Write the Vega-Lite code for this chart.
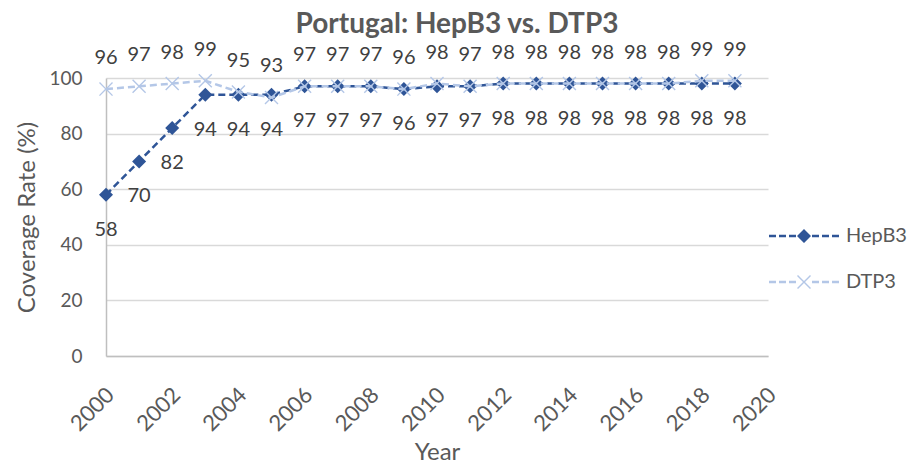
{
  "$schema": "https://vega.github.io/schema/vega-lite/v6.json",
  "width": 662,
  "height": 278,
  "autosize": {"type": "none"},
  "padding": {"left": 106, "top": 78, "right": 146, "bottom": 113},
  "background": "white",
  "config": {
    "view": {"stroke": null},
    "font": "Lato",
    "text": {"font": "Lato"}
  },
  "title": {
    "text": "Portugal: HepB3 vs. DTP3",
    "font": "Lato",
    "fontSize": 28,
    "fontWeight": "bold",
    "color": "#595959",
    "anchor": "middle",
    "baseline": "alphabetic",
    "offset": -21,
    "dx": 20
  },
  "data": {
    "values": [
      {"Year": 2000, "Series": "HepB3", "Rate": 58},
      {"Year": 2001, "Series": "HepB3", "Rate": 70},
      {"Year": 2002, "Series": "HepB3", "Rate": 82},
      {"Year": 2003, "Series": "HepB3", "Rate": 94},
      {"Year": 2004, "Series": "HepB3", "Rate": 94},
      {"Year": 2005, "Series": "HepB3", "Rate": 94},
      {"Year": 2006, "Series": "HepB3", "Rate": 97},
      {"Year": 2007, "Series": "HepB3", "Rate": 97},
      {"Year": 2008, "Series": "HepB3", "Rate": 97},
      {"Year": 2009, "Series": "HepB3", "Rate": 96},
      {"Year": 2010, "Series": "HepB3", "Rate": 97},
      {"Year": 2011, "Series": "HepB3", "Rate": 97},
      {"Year": 2012, "Series": "HepB3", "Rate": 98},
      {"Year": 2013, "Series": "HepB3", "Rate": 98},
      {"Year": 2014, "Series": "HepB3", "Rate": 98},
      {"Year": 2015, "Series": "HepB3", "Rate": 98},
      {"Year": 2016, "Series": "HepB3", "Rate": 98},
      {"Year": 2017, "Series": "HepB3", "Rate": 98},
      {"Year": 2018, "Series": "HepB3", "Rate": 98},
      {"Year": 2019, "Series": "HepB3", "Rate": 98},
      {"Year": 2000, "Series": "DTP3", "Rate": 96},
      {"Year": 2001, "Series": "DTP3", "Rate": 97},
      {"Year": 2002, "Series": "DTP3", "Rate": 98},
      {"Year": 2003, "Series": "DTP3", "Rate": 99},
      {"Year": 2004, "Series": "DTP3", "Rate": 95},
      {"Year": 2005, "Series": "DTP3", "Rate": 93},
      {"Year": 2006, "Series": "DTP3", "Rate": 97},
      {"Year": 2007, "Series": "DTP3", "Rate": 97},
      {"Year": 2008, "Series": "DTP3", "Rate": 97},
      {"Year": 2009, "Series": "DTP3", "Rate": 96},
      {"Year": 2010, "Series": "DTP3", "Rate": 98},
      {"Year": 2011, "Series": "DTP3", "Rate": 97},
      {"Year": 2012, "Series": "DTP3", "Rate": 98},
      {"Year": 2013, "Series": "DTP3", "Rate": 98},
      {"Year": 2014, "Series": "DTP3", "Rate": 98},
      {"Year": 2015, "Series": "DTP3", "Rate": 98},
      {"Year": 2016, "Series": "DTP3", "Rate": 98},
      {"Year": 2017, "Series": "DTP3", "Rate": 98},
      {"Year": 2018, "Series": "DTP3", "Rate": 99},
      {"Year": 2019, "Series": "DTP3", "Rate": 99}
    ]
  },
  "encoding": {
    "x": {
      "field": "Year",
      "type": "quantitative",
      "scale": {"domain": [2000, 2020], "nice": false, "zero": false},
      "axis": {
        "title": "Year",
        "titleFont": "Lato",
        "titleFontSize": 24,
        "titleFontWeight": "normal",
        "titleColor": "#595959",
        "titleY": 96,
        "titleBaseline": "middle",
        "values": [2000, 2002, 2004, 2006, 2008, 2010, 2012, 2014, 2016, 2018, 2020],
        "format": "d",
        "labelAngle": -45,
        "labelFont": "Lato",
        "labelFontSize": 22,
        "labelColor": "#595959",
        "labelPadding": 28,
        "labelOffset": -3,
        "labelOverlap": false,
        "labelFlush": false,
        "ticks": false,
        "grid": false,
        "domainColor": "#BFBFBF",
        "domainWidth": 1.5
      }
    },
    "y": {
      "field": "Rate",
      "type": "quantitative",
      "scale": {"domain": [0, 100], "nice": false},
      "axis": {
        "title": "Coverage Rate (%)",
        "titleFont": "Lato",
        "titleFontSize": 24,
        "titleFontWeight": "normal",
        "titleColor": "#595959",
        "titleX": -79,
        "titleY": 139,
        "titleAngle": -90,
        "titleAlign": "center",
        "titleBaseline": "middle",
        "values": [0, 20, 40, 60, 80, 100],
        "labelFont": "Lato",
        "labelFontSize": 19,
        "labelColor": "#595959",
        "labelPadding": 24,
        "ticks": false,
        "grid": true,
        "gridColor": "#D9D9D9",
        "gridWidth": 1.5,
        "domainColor": "#BFBFBF",
        "domainWidth": 1.5
      }
    },
    "color": {
      "field": "Series",
      "type": "nominal",
      "scale": {"domain": ["HepB3", "DTP3"], "range": ["#2F5597", "#B4C7E7"]},
      "legend": {
        "title": null,
        "orient": "none",
        "legendX": 688,
        "legendY": 148,
        "symbolSize": 400,
        "labelOffset": 32,
        "rowPadding": 26,
        "labelFont": "Lato",
        "labelFontSize": 20,
        "labelColor": "#595959",
        "encode": {
          "symbols": {
            "update": {
              "shape": {"signal": "datum.value === 'HepB3' ? 'M-3.5,-0.12H-2.8V0.12H-3.5ZM-2.5,-0.12H-1.8V0.12H-2.5ZM-1.5,-0.12H-0.8V0.12H-1.5ZM0.8,-0.12H1.5V0.12H0.8ZM1.8,-0.12H2.5V0.12H1.8ZM2.8,-0.12H3.5V0.12H2.8ZM0,-0.7L0.7,0L0,0.7L-0.7,0Z' : 'M-3.5,-0.12H-2.8V0.12H-3.5ZM-2.5,-0.12H-1.8V0.12H-2.5ZM-1.5,-0.12H-0.8V0.12H-1.5ZM0.8,-0.12H1.5V0.12H0.8ZM1.8,-0.12H2.5V0.12H1.8ZM2.8,-0.12H3.5V0.12H2.8ZM-0.7,-0.6L-0.6,-0.7L0,-0.1L0.6,-0.7L0.7,-0.6L0.1,0L0.7,0.6L0.6,0.7L0,0.1L-0.6,0.7L-0.7,0.6L-0.1,0Z'"},
              "fill": {"signal": "datum.value === 'HepB3' ? '#2F5597' : '#B4C7E7'"},
              "opacity": {"value": 1},
              "strokeWidth": {"value": 0}
            }
          }
        }
      }
    }
  },
  "layer": [
    {
      "transform": [{"filter": "datum.Series === 'HepB3'"}],
      "mark": {"type": "line", "strokeDash": [7, 4], "strokeWidth": 2.5}
    },
    {
      "transform": [{"filter": "datum.Series === 'HepB3'"}],
      "mark": {"type": "point", "filled": true, "opacity": 1, "size": 196, "strokeWidth": 0, "shape": "M0,-1L1,0L0,1L-1,0Z"}
    },
    {
      "transform": [{"filter": "datum.Series === 'HepB3'"}],
      "mark": {"type": "text", "dy": 35, "font": "Lato", "fontSize": 20, "baseline": "middle"},
      "encoding": {"text": {"field": "Rate", "type": "quantitative"}, "color": {"value": "#404040"}}
    },
    {
      "transform": [{"filter": "datum.Series === 'DTP3'"}],
      "mark": {"type": "line", "strokeDash": [7, 4], "strokeWidth": 2.5}
    },
    {
      "transform": [{"filter": "datum.Series === 'DTP3'"}],
      "mark": {"type": "point", "filled": true, "opacity": 1, "size": 196, "strokeWidth": 0, "shape": "M-1,-0.86L-0.86,-1L0,-0.14L0.86,-1L1,-0.86L0.14,0L1,0.86L0.86,1L0,0.14L-0.86,1L-1,0.86L-0.14,0Z"}
    },
    {
      "transform": [{"filter": "datum.Series === 'DTP3'"}],
      "mark": {"type": "text", "dy": -31, "font": "Lato", "fontSize": 20, "baseline": "middle"},
      "encoding": {"text": {"field": "Rate", "type": "quantitative"}, "color": {"value": "#404040"}}
    }
  ]
}
